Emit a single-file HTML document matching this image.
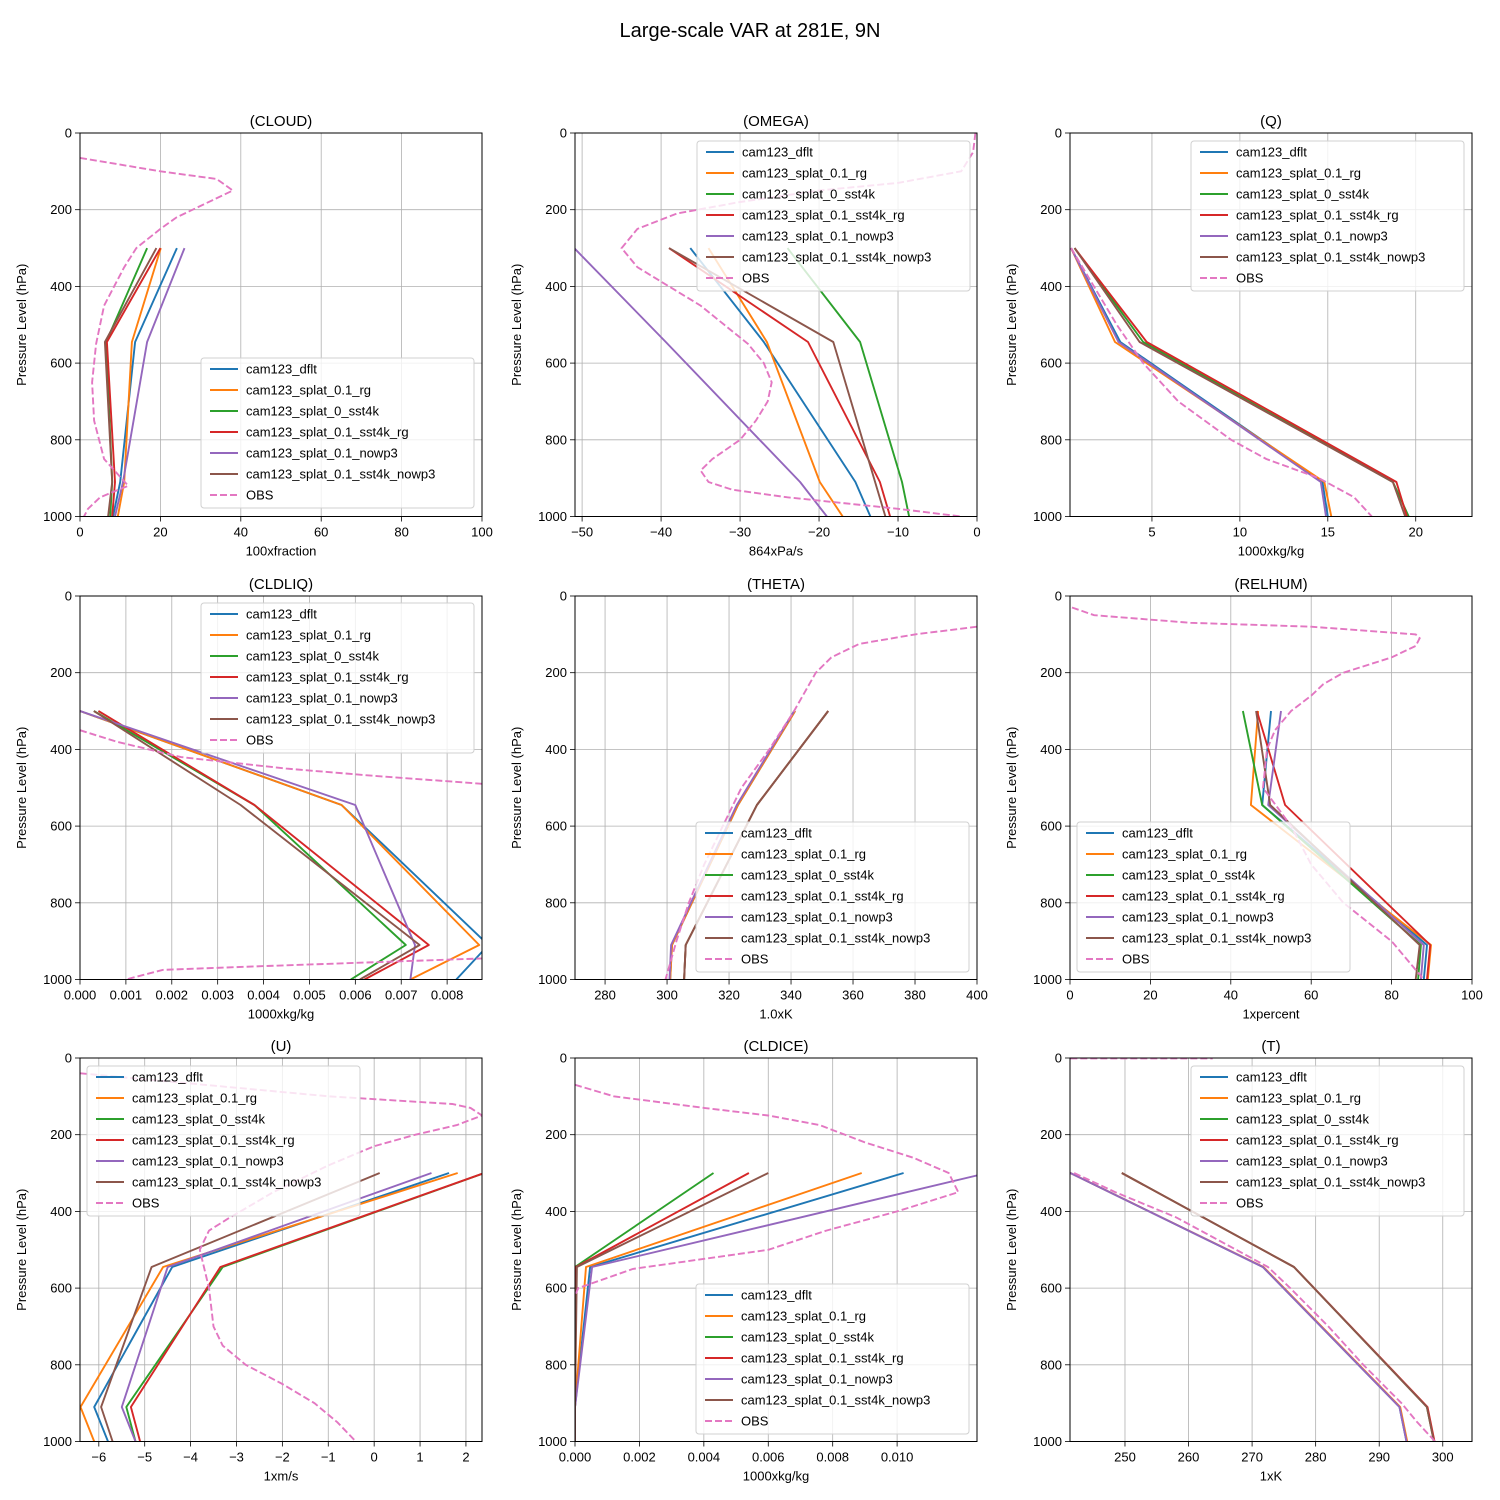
<!DOCTYPE html>
<html><head><meta charset="utf-8">
<style>
body{margin:0;background:#fff;}
svg{display:block;font-family:"Liberation Sans","DejaVu Sans",sans-serif;}
</style></head>
<body>
<svg id="fig" width="1500" height="1500" viewBox="0 0 1500 1500" xmlns="http://www.w3.org/2000/svg">
<rect width="1500" height="1500" fill="#fff"/>
<text x="750" y="37" font-size="20" text-anchor="middle">Large-scale VAR at 281E, 9N</text>
</svg>
<script>
const levels = [300, 545, 910, 1000];
const seriesNames = ["cam123_dflt","cam123_splat_0.1_rg","cam123_splat_0_sst4k","cam123_splat_0.1_sst4k_rg","cam123_splat_0.1_nowp3","cam123_splat_0.1_sst4k_nowp3","OBS"];
const colors = ["#1f77b4","#ff7f0e","#2ca02c","#d62728","#9467bd","#8c564b","#e377c2"];

const cloudSeries = [[24.1,13.7,10,8.2],[20.1,12.9,11,9.4],[16.7,6.5,8,7.5],[20,6.7,8.7,8],[26,16.7,10.7,8.7],[19,6.2,8,7]];
const cloudObsP = [65,100,120,150,175,220,250,300,350,450,550,650,750,850,920,950,980,1000];
const cloudObsV = [0,20,34,38,33,24,20,14,11,6,4,3,3.5,6,12,5,2,1];

const omegaSeries = [[-36.3,-27,-15.4,-13.5],[-34,-26.6,-19.9,-17],[-24,-14.8,-9.5,-8.6],[-39,-21.4,-12.3,-11],[-51,-39.4,-22.4,-19],[-39,-18.2,-12.9,-11.6]];
const omegaObsP = [0,50,100,130,150,180,210,250,300,350,400,450,500,550,600,650,700,750,800,850,880,910,930,950,980,1000];
const omegaObsV = [-0.2,-0.5,-2,-10,-20,-30,-38,-43,-45,-43,-39,-35,-32,-29,-27,-26,-26.5,-28,-30,-33.5,-35,-34,-31,-24,-10,-2];

const qSeries = [[0.4,3.2,14.7,15],[0.4,2.9,14.8,15.2],[0.6,4.5,18.7,19.6],[0.6,4.7,18.9,19.5],[0.4,3.1,14.6,14.9],[0.6,4.3,18.7,19.4]];
const qObsP = [300,400,500,600,700,800,850,900,950,1000];
const qObsV = [0.4,1.7,3,4.5,6.5,9.5,11.5,14.5,16.5,17.5];

const liqSeries = [[0,0.0057,0.0089,0.0082],[0,0.0057,0.0087,0.0072],[0.0003,0.0038,0.0071,0.0059],[0.0004,0.0038,0.0076,0.0062],[0,0.0060,0.0073,0.0072],[0.0003,0.0035,0.0074,0.0061]];
const liqObsP = [350,380,420,450,470,490,520,900,945,965,975,1000];
const liqObsV = [0,0.0008,0.0022,0.0045,0.0065,0.0088,0.012,0.012,0.0088,0.004,0.0018,0.001];

const thetaSeries = [[341.3,322.9,301.6,301],[341.3,322.9,301.6,301],[352,329,306,305.5],[352,329,306,305.5],[341,322.5,301.3,300.8],[352,329,306,305.5]];
const thetaObsP = [80,100,125,160,200,300,400,500,600,700,800,900,1000];
const thetaObsV = [400,380,362,353,348,341,333,324,318,312,307,303,299.5];

const rhSeries = [[50,47.8,88.8,88],[46.8,45,89.8,89],[43,47.8,87.3,86.6],[46.5,53.5,89.6,88.8],[52.5,49.3,88,87.3],[46.3,49.8,87,86]];
const rhObsP = [30,50,70,80,100,110,130,160,200,230,260,300,350,400,500,600,700,800,900,1000];
const rhObsV = [0.5,6,30,60,86,87,86,80,68,63,60,55,51,49,48,55,60,68,80,88];

const uSeries = [[1.63,-4.4,-6.1,-5.8],[1.82,-4.6,-6.4,-6.1],[2.4,-3.3,-5.4,-5.2],[2.4,-3.35,-5.3,-5.1],[1.25,-4.5,-5.5,-5.2],[0.12,-4.85,-5.95,-5.7]];
const uObsP = [40,100,120,130,150,175,200,230,280,350,420,450,500,600,700,750,800,850,900,950,1000];
const uObsV = [-6.4,-1,1.7,2.1,2.35,1.8,0.9,0,-1,-2.2,-3.2,-3.6,-3.8,-3.6,-3.5,-3.3,-2.8,-2,-1.3,-0.8,-0.4];

const iceSeries = [[0.0102,0.00047,0,0],[0.0089,0.00034,0,0],[0.0043,0,0,0],[0.0054,0.00003,0,0],[0.0128,0.00053,0,0],[0.006,0.00006,0,0]];
const iceObsP = [70,100,130,150,175,220,260,300,350,400,450,500,550,600,620];
const iceObsV = [0,0.0012,0.004,0.006,0.0076,0.009,0.0105,0.0116,0.0119,0.010,0.0078,0.006,0.0018,0.0001,0];

const tSeries = [[241.4,271.7,293.2,294.3],[241.4,271.8,293.3,294.4],[249.5,276.6,297.5,298.6],[249.5,276.6,297.6,298.7],[241.4,271.7,293.2,294.3],[249.5,276.6,297.5,298.6]];
const tObsP = [1,1,null,300,350,415,500,545,600,700,800,900,950,1000];
const tObsV = [241.4,263.8,null,242,248.5,258,267.5,272.5,276,282,287.5,293.5,296,298.8];

const xTicksCloud = [0,20,40,60,80,100];
const xTicksOmega = [-50,-40,-30,-20,-10,0];
const xTicksQ = [5,10,15,20];
const xTicksLiq = [0,0.001,0.002,0.003,0.004,0.005,0.006,0.007,0.008];
const xTicksTheta = [280,300,320,340,360,380,400];
const xTicksRh = [0,20,40,60,80,100];
const xTicksU = [-6,-5,-4,-3,-2,-1,0,1,2];
const xTicksIce = [0,0.002,0.004,0.006,0.008,0.010];
const xTicksT = [250,260,270,280,290,300];
const yTicks = [0,200,400,600,800,1000];

const panels = [
 {name:"cloud",title:"(CLOUD)",xl:"100xfraction",col:0,row:0,xmin:0,xmax:100,ticks:xTicksCloud,dec:0,s:cloudSeries,op:cloudObsP,ov:cloudObsV,leg:[201,358]},
 {name:"omega",title:"(OMEGA)",xl:"864xPa/s",col:1,row:0,xmin:-50.9,xmax:0,ticks:xTicksOmega,dec:0,s:omegaSeries,op:omegaObsP,ov:omegaObsV,leg:[697,141]},
 {name:"q",title:"(Q)",xl:"1000xkg/kg",col:2,row:0,xmin:0.34,xmax:23.2,ticks:xTicksQ,dec:0,s:qSeries,op:qObsP,ov:qObsV,leg:[1191,141]},
 {name:"cldliq",title:"(CLDLIQ)",xl:"1000xkg/kg",col:0,row:1,xmin:0,xmax:0.00876,ticks:xTicksLiq,dec:3,s:liqSeries,op:liqObsP,ov:liqObsV,leg:[201,603]},
 {name:"theta",title:"(THETA)",xl:"1.0xK",col:1,row:1,xmin:270.3,xmax:400,ticks:xTicksTheta,dec:0,s:thetaSeries,op:thetaObsP,ov:thetaObsV,leg:[696,822]},
 {name:"relhum",title:"(RELHUM)",xl:"1xpercent",col:2,row:1,xmin:0,xmax:100,ticks:xTicksRh,dec:0,s:rhSeries,op:rhObsP,ov:rhObsV,leg:[1077,822]},
 {name:"u",title:"(U)",xl:"1xm/s",col:0,row:2,xmin:-6.41,xmax:2.35,ticks:xTicksU,dec:0,s:uSeries,op:uObsP,ov:uObsV,leg:[87,1066]},
 {name:"cldice",title:"(CLDICE)",xl:"1000xkg/kg",col:1,row:2,xmin:0,xmax:0.01248,ticks:xTicksIce,dec:3,s:iceSeries,op:iceObsP,ov:iceObsV,leg:[696,1284]},
 {name:"t",title:"(T)",xl:"1xK",col:2,row:2,xmin:241.35,xmax:304.6,ticks:xTicksT,dec:0,s:tSeries,op:tObsP,ov:tObsV,leg:[1191,1066]}
];
const colX=[80,575,1070], rowY=[133,596,1058], W=402, H=383.5;
const NS="http://www.w3.org/2000/svg";
const fig=document.getElementById("fig");
function mk(tag,attrs,parent){const e=document.createElementNS(NS,tag);for(const k in attrs)e.setAttribute(k,attrs[k]);(parent||fig).appendChild(e);return e;}
function fmt(v,dec){let s=v.toFixed(dec);if(s.startsWith("-"))s="\u2212"+s.slice(1);if(s==="\u22120")s="0";return s;}

panels.forEach(p=>{
 const x0=colX[p.col], y0=rowY[p.row];
 const g=mk("g",{});
 
 
 const xs=v=>x0+(v-p.xmin)/(p.xmax-p.xmin)*W;
 const ys=v=>y0+v/1000*H;
 const clipId="clip-"+p.name;
 const cp=mk("clipPath",{id:clipId},g);mk("rect",{x:x0,y:y0,width:W,height:H},cp);
 p.ticks.forEach(t=>{
  const x=xs(t);
  const gl=mk("line",{x1:x,x2:x,y1:y0,y2:y0+H,stroke:"#b0b0b0","stroke-width":0.8},g);
  
  
  mk("line",{x1:x,x2:x,y1:y0+H,y2:y0+H+5,stroke:"#000","stroke-width":0.8},g);
  const tl=mk("text",{x:x,y:y0+H+20,"font-size":13,"text-anchor":"middle"},g);
  tl.textContent=fmt(t,p.dec);
  
  
 });
 yTicks.forEach(t=>{
  const y=ys(t);
  const gl=mk("line",{x1:x0,x2:x0+W,y1:y,y2:y,stroke:"#b0b0b0","stroke-width":0.8},g);
  
  
  mk("line",{x1:x0-5,x2:x0,y1:y,y2:y,stroke:"#000","stroke-width":0.8},g);
  const tl=mk("text",{x:x0-8,y:y+4.5,"font-size":13,"text-anchor":"end"},g);
  tl.textContent=String(t);
  
  
 });
 const cg=mk("g",{"clip-path":"url(#"+clipId+")"},g);
 p.s.forEach((vals,i)=>{
  const pts=vals.map((v,j)=>xs(v).toFixed(1)+","+ys(levels[j]).toFixed(1)).join(" ");
  const pl=mk("polyline",{points:pts,fill:"none",stroke:colors[i],"stroke-width":1.9,"stroke-linejoin":"round"},cg);
  
  
 });
 let d="", pen=false;
 p.ov.forEach((v,j)=>{
  if(v===null||p.op[j]===null){pen=false;return;}
  d+=(pen?"L":"M")+xs(v).toFixed(1)+","+ys(p.op[j]).toFixed(1)+" ";
  pen=true;
 });
 const ol=mk("path",{d:d,fill:"none",stroke:colors[6],"stroke-width":1.9,"stroke-dasharray":"7,3"},cg);
 
 
 mk("rect",{x:x0,y:y0,width:W,height:H,fill:"none",stroke:"#000","stroke-width":1},g);
 const tt=mk("text",{x:x0+W/2,y:y0-7,"font-size":15,"text-anchor":"middle"},g);
 tt.textContent=p.title;
 
 
 const xl=mk("text",{x:x0+W/2,y:y0+H+39,"font-size":13,"text-anchor":"middle"},g);
 xl.textContent=p.xl;
 
 
 const yl=mk("text",{x:0,y:0,"font-size":13,"text-anchor":"middle",transform:"translate("+(x0-54)+","+(y0+H/2)+") rotate(-90)"},g);
 yl.textContent="Pressure Level (hPa)";
 
 
 const lx=p.leg[0], ly=p.leg[1];
 const lg=mk("g",{},g);
 
 
 mk("rect",{x:lx,y:ly,width:273,height:150,rx:3,fill:"#fff","fill-opacity":0.8,stroke:"#d0d0d0","stroke-width":1},lg);
 seriesNames.forEach((n,i)=>{
  const yy=ly+11+i*21;
  const e=mk("g",{},lg);
  
  
  const a={x1:lx+9,x2:lx+37,y1:yy,y2:yy,stroke:colors[i],"stroke-width":1.9};
  if(i===6)a["stroke-dasharray"]="7,3";
  mk("line",a,e);
  const t=mk("text",{x:lx+45,y:yy+4.5,"font-size":13},e);
  t.textContent=n;
 });
});
</script>
</body></html>
